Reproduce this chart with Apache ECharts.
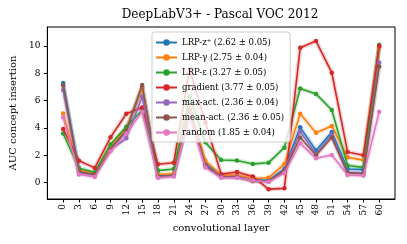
<!DOCTYPE html>
<html>
<head>
<meta charset="utf-8">
<script src="https://cdn.jsdelivr.net/npm/echarts@6/dist/echarts.min.js"></script>
<style>html,body{margin:0;padding:0;background:#fff}#c{width:407px;height:244px}</style>
</head>
<body>
<div id="c"></div>
<script>
const layers = [0,3,6,9,12,15,18,21,24,27,30,33,36,39,42,45,48,51,54,57,60];
const yTicks = [0,2,4,6,8,10];

const methodNames = ['LRP-z\u207A', 'LRP-\u03B3', 'LRP-\u03B5', 'gradient', 'max-act.', 'mean-act.', 'random'];
const scoreMeans = ['2.62', '2.75', '3.27', '3.77', '2.36', '2.36', '1.85'];
const scoreErrs  = ['0.05', '0.04', '0.05', '0.05', '0.04', '0.05', '0.04'];
const colors = ['#1f77b4', '#ff7f0e', '#2ca02c', '#d62728', '#9467bd', '#8c564b', '#e377c2'];

const lrpZ     = [7.30, 0.85, 0.60, 2.55, 3.85, 7.00, 0.50, 0.60, 5.20, 1.40, 0.50, 0.50, 0.20, 0.15, 1.00, 4.05, 2.35, 3.70, 1.00, 0.95, 9.95];
const lrpGamma = [5.07, 0.90, 0.65, 2.65, 4.00, 6.90, 0.60, 0.65, 5.50, 1.60, 0.55, 0.55, 0.30, 0.35, 1.35, 5.05, 3.65, 4.15, 1.85, 1.65, 9.90];
const lrpEps   = [3.60, 1.05, 0.75, 2.80, 4.10, 5.30, 0.88, 1.00, 6.30, 2.95, 1.66, 1.62, 1.37, 1.46, 2.56, 6.90, 6.50, 5.32, 1.25, 1.12, 10.10];
const gradient = [3.93, 1.60, 1.08, 3.32, 5.05, 5.50, 1.35, 1.46, 8.30, 4.40, 0.62, 0.78, 0.44, -0.48, -0.42, 9.88, 10.37, 8.05, 2.24, 2.00, 10.00];
const maxAct   = [6.78, 0.75, 0.55, 2.40, 3.25, 6.30, 0.40, 0.50, 5.00, 1.30, 0.45, 0.45, 0.15, 0.10, 0.90, 3.75, 2.10, 3.50, 0.75, 0.70, 8.80];
const meanAct  = [7.12, 0.80, 0.60, 2.40, 3.80, 7.15, 0.45, 0.50, 5.30, 1.25, 0.40, 0.40, 0.10, 0.10, 0.85, 3.30, 2.00, 3.30, 0.70, 0.65, 8.50];
const randomB  = [4.78, 0.60, 0.42, 2.30, 3.60, 5.20, 0.35, 0.45, 4.90, 1.10, 0.35, 0.35, 0.15, 0.05, 0.70, 2.88, 1.78, 2.02, 0.55, 0.50, 5.20];

const allSeries = [lrpZ, lrpGamma, lrpEps, gradient, maxAct, meanAct, randomB];
const FONT = 'DejaVu Serif';

const labels = methodNames.map((n, i) => n + ' (' + scoreMeans[i] + ' \u00B1 ' + scoreErrs[i] + ')');

const series = [];
allSeries.forEach((vals, i) => {
  const pts = layers.map((x, k) => [x, vals[k]]);
  series.push({
    name: '_halo' + i, type: 'line', data: pts, symbol: 'none', silent: true, z: 1,
    lineStyle: { color: colors[i], width: 4.5, opacity: 0.2 }, emphasis: { disabled: true }, animation: false
  });
});
allSeries.forEach((vals, i) => {
  const pts = layers.map((x, k) => [x, vals[k]]);
  series.push({
    name: labels[i], type: 'line', data: pts, symbol: 'circle', symbolSize: 4.5, z: 2 + i,
    itemStyle: { color: colors[i] },
    lineStyle: { color: colors[i], width: 1.6 },
    emphasis: { disabled: true }, animation: false
  });
});

const chart = echarts.init(document.getElementById('c'), null, { renderer: 'canvas' });
chart.setOption({
  backgroundColor: '#fff',
  animation: false,
  title: {
    text: 'DeepLabV3+ - Pascal VOC 2012',
    left: 220, top: 9, textAlign: 'center', padding: 0,
    textStyle: { fontFamily: FONT, fontSize: 12, fontWeight: 'normal', color: '#000' }
  },
  grid: { left: 45, right: 12, top: 27, bottom: 45, show: true, borderColor: '#000', borderWidth: 1, backgroundColor: 'transparent' },
  legend: {
    data: labels, orient: 'vertical', left: 152, top: 32,
    padding: [6, 6, 5, 3], itemWidth: 21, itemHeight: 8, itemGap: 6, itemTextGap: 6,
    backgroundColor: 'rgba(255,255,255,0.8)', borderColor: '#cccccc', borderWidth: 1, borderRadius: 3,
    textStyle: { fontFamily: FONT, fontSize: 8.5, color: '#000' },
    selectedMode: false, z: 20
  },
  xAxis: {
    type: 'value', min: -3, max: 63,
    name: 'convolutional layer', nameLocation: 'middle', nameGap: 23,
    nameTextStyle: { fontFamily: FONT, fontSize: 10, color: '#000' },
    axisLine: { show: true, onZero: false, lineStyle: { color: '#000', width: 1 } },
    axisTick: { show: true, length: 3.5, lineStyle: { color: '#000' }, customValues: layers },
    axisLabel: { rotate: 90, margin: 5, fontFamily: FONT, fontSize: 9, color: '#000', customValues: layers },
    splitLine: { show: false }
  },
  yAxis: {
    type: 'value', min: -1.2, max: 11.4,
    name: 'AUC concept insertion', nameLocation: 'middle', nameGap: 22,
    nameTextStyle: { fontFamily: FONT, fontSize: 10, color: '#000' },
    axisLine: { show: true, onZero: false, lineStyle: { color: '#000', width: 1 } },
    axisTick: { show: true, length: 3.5, lineStyle: { color: '#000' }, customValues: yTicks },
    axisLabel: { margin: 7, fontFamily: FONT, fontSize: 9, color: '#000', customValues: yTicks },
    splitLine: { show: false }
  },
  series: series
});
</script>
</body>
</html>
